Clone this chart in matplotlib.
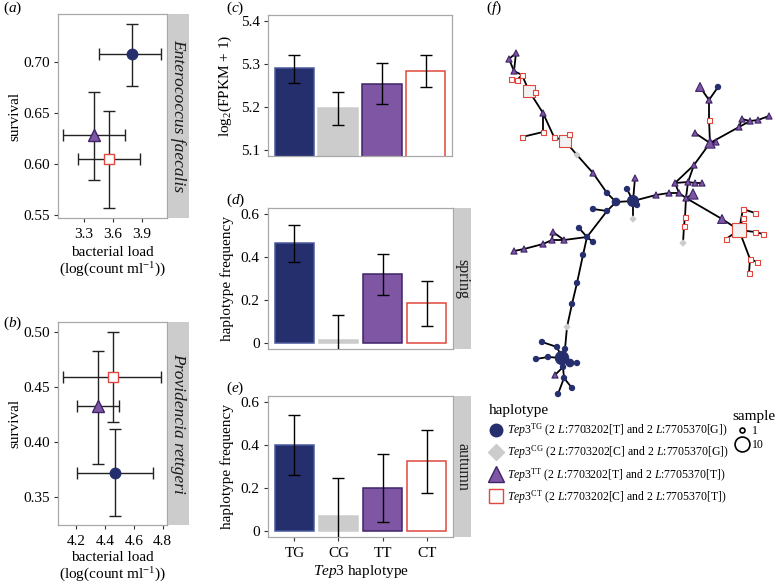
import numpy as np
import matplotlib.pyplot as plt
from matplotlib.lines import Line2D
from matplotlib.collections import LineCollection

W, H = 776, 585

# ---- data -------------------------------------------------------------
haplotypes = ["TG", "CG", "TT", "CT"]

# (a) Enterococcus faecalis: TG, TT, CT
a_load = [3.80, 3.40, 3.56]
a_load_lo = [3.455, 3.08, 3.24]
a_load_hi = [4.10, 3.72, 3.88]
a_surv = [0.708, 0.628, 0.605]
a_surv_lo = [0.676, 0.584, 0.557]
a_surv_hi = [0.737, 0.671, 0.652]

# (b) Providencia rettgeri: TG, TT, CT
b_load = [4.47, 4.35, 4.455]
b_load_lo = [4.21, 4.21, 4.11]
b_load_hi = [4.73, 4.50, 4.79]
b_surv = [0.372, 0.433, 0.459]
b_surv_lo = [0.333, 0.380, 0.418]
b_surv_hi = [0.412, 0.483, 0.500]

# (c) expression
c_expr = [5.291, 5.198, 5.253, 5.284]
c_expr_lo = [5.256, 5.158, 5.207, 5.247]
c_expr_hi = [5.321, 5.235, 5.302, 5.321]

# (d) spring frequency
d_freq = [0.466, 0.014, 0.323, 0.187]
d_freq_lo = [0.378, -0.10, 0.225, 0.080]
d_freq_hi = [0.549, 0.130, 0.417, 0.290]

# (e) autumn frequency
e_freq = [0.400, 0.067, 0.200, 0.325]
e_freq_lo = [0.260, -0.11, 0.040, 0.178]
e_freq_hi = [0.540, 0.245, 0.360, 0.470]

# (f) haplotype network layout (x, y in layout units), kind, sample count
net_x = [633, 637, 627, 635, 633, 616, 607, 593, 577, 565, 569, 554, 543, 543, 522, 529, 535, 522, 517, 511, 514, 509, 516,
         656, 669, 679, 686, 693, 675, 688, 695, 702, 694, 710, 716, 695, 709, 709, 700, 718, 739, 742, 750, 758, 769,
         685, 684, 683, 722, 739, 743, 755, 743, 755, 763, 726, 750, 757, 749,
         607, 593, 587, 579, 593, 564, 553, 552, 543, 524, 514, 583, 577, 572, 567, 565, 562, 570, 577, 557, 542,
         548, 536, 563, 555, 564, 572, 558]
net_y = [201, 205, 189, 178, 219, 202, 193, 173, 155, 141, 134, 137, 113, 132, 137, 91, 92, 75, 80, 79, 71, 59, 53,
         195, 193, 193, 198, 194, 183, 182, 183, 183, 165, 143, 142, 133, 120, 100, 87, 87, 127, 119, 121, 120, 116,
         217, 226, 243, 219, 230, 209, 213, 218, 232, 234, 239, 259, 262, 273,
         211, 209, 237, 228, 242, 240, 232, 240, 244, 249, 251, 255, 283, 304, 327, 349, 358, 363, 363, 347, 342,
         357, 359, 367, 375, 378, 388, 394]
net_kind = ["TG", "TG", "TG", "TT", "CG", "TG", "TG", "TT", "CG", "CT", "CT", "CT", "TT", "CT", "CT", "CT", "CT", "CT",
            "CT", "CT", "TT", "TT", "TT",
            "TT", "TT", "TT", "TT", "TT", "TT", "TT", "TT", "TT", "TT", "TT", "TT", "TT", "CT", "TT", "TT", "TG", "TT",
            "TT", "TT", "TT", "TT",
            "CT", "CT", "CG", "TT", "CT", "CT", "CT", "CT", "CT", "CT", "CT", "CT", "CT", "CT",
            "TG", "TG", "TG", "TG", "TG", "TT", "TT", "TT", "TT", "TT", "TT", "TG", "TG", "TG", "CG", "TG", "TG", "TG",
            "TG", "TG", "TG", "TG", "TG", "TG", "TT", "TG", "TG", "TG"]
net_n = [6, 1, 1, 1, 1, 3, 1, 1, 1, 7, 1, 1, 1, 1, 1, 7, 1, 1, 1, 1, 1, 1, 1,
         1, 1, 1, 1, 4, 1, 1, 1, 1, 1, 4, 1, 1, 1, 1, 3, 1, 1, 1, 1, 1, 1,
         1, 1, 1, 3, 10, 1, 1, 1, 1, 1, 1, 1, 1, 1,
         1, 1, 1, 1, 1, 1, 1, 1, 1, 1, 1, 1, 1, 1, 1, 1, 8, 3, 1, 1, 1,
         1, 1, 1, 1, 1, 1, 1]
edge_from = [0, 0, 0, 0, 0, 5, 6, 7, 8, 9, 9, 11, 12, 13, 12, 15, 15, 17, 18, 17, 20, 21, 20,
             0, 23, 24, 25, 26, 25, 28, 29, 29, 30, 28, 32, 32, 33, 33, 33, 36, 37, 37, 33, 40, 41, 40, 42, 43,
             26, 45, 46, 26, 48, 49, 50, 49, 49, 53, 49, 49, 56, 56,
             5, 59, 59, 61, 61, 61, 64, 64, 65, 66, 67, 68, 61, 70, 71, 72, 73, 74, 75, 76, 75, 78, 75, 80, 75,
             82, 82, 84, 84]
edge_to = [1, 2, 3, 4, 5, 6, 7, 8, 9, 10, 11, 12, 13, 14, 15, 16, 17, 18, 19, 20, 21, 22, 22,
           23, 24, 25, 26, 27, 28, 29, 26, 30, 31, 32, 29, 33, 34, 35, 36, 37, 38, 39, 40, 41, 42, 42, 43, 44,
           45, 46, 47, 48, 49, 50, 51, 52, 53, 54, 55, 56, 57, 58,
           59, 60, 61, 62, 63, 64, 65, 66, 66, 67, 68, 69, 70, 71, 72, 73, 74, 75, 76, 77, 78, 79, 80, 81, 82,
           83, 84, 85, 86]

legend_labels = [
    r"$\mathit{Tep3}^{\mathrm{TG}}$ (2 $\mathit{L}$:7703202[T] and 2 $\mathit{L}$:7705370[G])",
    r"$\mathit{Tep3}^{\mathrm{CG}}$ (2 $\mathit{L}$:7703202[C] and 2 $\mathit{L}$:7705370[G])",
    r"$\mathit{Tep3}^{\mathrm{TT}}$ (2 $\mathit{L}$:7703202[T] and 2 $\mathit{L}$:7705370[T])",
    r"$\mathit{Tep3}^{\mathrm{CT}}$ (2 $\mathit{L}$:7703202[C] and 2 $\mathit{L}$:7705370[T])",
]

# ---- style ------------------------------------------------------------
FACE = {"TG": "#262f6e", "CG": "#cccccc", "TT": "#7f56a3", "CT": "white"}
EDGE = {"TG": "#262f6e", "CG": "#cccccc", "TT": "#3f2468", "CT": "#e0483d"}
BAR_EDGE = {"TG": "#4a5a9c", "CG": "#cccccc", "TT": "#3f2468", "CT": "#e0483d"}
MARK = {"TG": "o", "CG": "D", "TT": "^", "CT": "s"}
BORDER = "#a8a8a8"
STRIP = "#cccccc"

plt.rcParams.update({
    "font.family": ["Liberation Serif", "DejaVu Serif"],
    "font.size": 11,
    "mathtext.fontset": "custom",
    "mathtext.rm": "Liberation Serif",
    "mathtext.it": "Liberation Serif:italic",
    "mathtext.bf": "Liberation Serif:bold",
    "xtick.labelsize": 11,
    "ytick.labelsize": 11,
    "axes.labelsize": 11,
})

fig = plt.figure(figsize=(W / 100, H / 100), dpi=100)


def box(l, t, r, b):
    return fig.add_axes([l / W, 1 - b / H, (r - l) / W, (b - t) / H])


def style(ax):
    for s in ax.spines.values():
        s.set_color(BORDER)
        s.set_linewidth(0.9)
    ax.tick_params(length=3, width=0.8, color="#333333")
    ax.tick_params(axis="x", pad=4.5)
    ax.tick_params(axis="y", pad=3)


def strip(l, t, r, b, text, italic=False, size=11.5):
    s = box(l, t, r, b)
    s.set_facecolor(STRIP)
    for sp in s.spines.values():
        sp.set_visible(False)
    s.set_xticks([])
    s.set_yticks([])
    s.text(0.5, 0.5, text, rotation=-90, ha="center", va="center", fontsize=size,
           style="italic" if italic else "normal", color="#1a1a1a", transform=s.transAxes)


def scatter_panel(ax, load, lo_l, hi_l, surv, lo_s, hi_s):
    kinds = ["TG", "TT", "CT"]
    for i, k in enumerate(kinds):
        ax.errorbar(load[i], surv[i],
                    xerr=[[load[i] - lo_l[i]], [hi_l[i] - load[i]]],
                    yerr=[[surv[i] - lo_s[i]], [hi_s[i] - surv[i]]],
                    fmt="none", ecolor="#222222", elinewidth=1.0, capsize=4.5, capthick=1.0, zorder=2)
    for i, k in enumerate(kinds):
        ms = {"TG": 7.5, "TT": 9, "CT": 7.5}[k]
        ax.plot(load[i], surv[i], marker=MARK[k], ms=ms, mfc=FACE[k], mec=EDGE[k],
                mew=1.0, ls="none", zorder=3)


XLAB = "bacterial load\n(log(count ml$^{-1}$))"

# (a)
ax_a = box(58, 14, 167, 218)
scatter_panel(ax_a, a_load, a_load_lo, a_load_hi, a_surv, a_surv_lo, a_surv_hi)
ax_a.set_xlim(3.03, 4.16)
ax_a.set_ylim(0.547, 0.747)
ax_a.set_xticks([3.3, 3.6, 3.9])
ax_a.set_yticks([0.55, 0.60, 0.65, 0.70])
ax_a.set_yticklabels(["0.55", "0.60", "0.65", "0.70"])
ax_a.set_ylabel("survival", labelpad=1)
ax_a.set_xlabel(XLAB, labelpad=3, linespacing=1.15)
style(ax_a)
strip(168, 14, 189, 218, "Enterococcus faecalis", italic=True, size=12.5)

# (b)
ax_b = box(58, 322, 167, 525)
scatter_panel(ax_b, b_load, b_load_lo, b_load_hi, b_surv, b_surv_lo, b_surv_hi)
ax_b.set_xlim(4.076, 4.83)
ax_b.set_ylim(0.325, 0.509)
ax_b.set_xticks([4.2, 4.4, 4.6, 4.8])
ax_b.set_yticks([0.35, 0.40, 0.45, 0.50])
ax_b.set_yticklabels(["0.35", "0.40", "0.45", "0.50"])
ax_b.set_ylabel("survival", labelpad=1)
ax_b.set_xlabel(XLAB, labelpad=2, linespacing=1.1)
style(ax_b)
strip(168, 322, 189, 525, "Providencia rettgeri", italic=True, size=12.5)


def bar_panel(ax, vals, lo, hi):
    x = np.arange(len(haplotypes))
    for i, h in enumerate(haplotypes):
        ax.bar(x[i], vals[i], width=0.9, color=FACE[h], edgecolor=BAR_EDGE[h], linewidth=1.1, zorder=2)
    v = np.array(vals)
    ax.errorbar(x, v, yerr=[v - np.array(lo), np.array(hi) - v], fmt="none", ecolor="black",
                elinewidth=1.0, capsize=4.5, capthick=1.0, zorder=3)
    ax.set_xlim(-0.6, 3.6)
    ax.set_xticks(x)
    style(ax)


# (c)
ax_c = box(268, 15, 452, 156)
bar_panel(ax_c, c_expr, c_expr_lo, c_expr_hi)
ax_c.set_ylim(5.085, 5.415)
ax_c.set_yticks([5.1, 5.2, 5.3, 5.4])
ax_c.set_xticklabels([])
ax_c.tick_params(axis="x", length=0)
ax_c.set_ylabel("log$_2$(FPKM + 1)", labelpad=5)

# (d)
ax_d = box(268, 208, 453, 349)
bar_panel(ax_d, d_freq, d_freq_lo, d_freq_hi)
ax_d.set_ylim(-0.03, 0.63)
ax_d.set_yticks([0, 0.2, 0.4, 0.6])
ax_d.set_yticklabels(["0", "0.2", "0.4", "0.6"])
ax_d.set_xticklabels([])
ax_d.tick_params(axis="x", length=0)
ax_d.set_ylabel("haplotype frequency", labelpad=5)
strip(454, 208, 471, 349, "spring")

# (e)
ax_e = box(268, 396, 453, 537)
bar_panel(ax_e, e_freq, e_freq_lo, e_freq_hi)
ax_e.set_ylim(-0.03, 0.63)
ax_e.set_yticks([0, 0.2, 0.4, 0.6])
ax_e.set_yticklabels(["0", "0.2", "0.4", "0.6"])
ax_e.set_xticklabels(haplotypes)
ax_e.set_ylabel("haplotype frequency", labelpad=5)
ax_e.set_xlabel(r"$\mathit{Tep3}$ haplotype", labelpad=2)
strip(454, 396, 471, 537, "autumn")

# (f) network
ax_f = box(480, 20, 776, 410)
ax_f.set_xlim(480, 776)
ax_f.set_ylim(410, 20)
ax_f.axis("off")
segs = [[(net_x[a], net_y[a]), (net_x[b], net_y[b])] for a, b in zip(edge_from, edge_to)]
ax_f.add_collection(LineCollection(segs, colors="black", linewidths=1.3, zorder=1))


def node_area(n):
    d_px = 5.0 + (np.asarray(n) - 1) * 1.1
    return (d_px * 0.72) ** 2


nx_, ny_, nn_ = np.array(net_x), np.array(net_y), np.array(net_n)
kinds = np.array(net_kind)
for k in haplotypes:
    m = kinds == k
    face = FACE[k]
    if k == "CT":
        face = np.where(nn_[m] > 3, "#f2f2f2", "white")
    scale = {"TG": 1.1, "CG": 0.7, "TT": 1.5, "CT": 1.0}[k]
    ax_f.scatter(nx_[m], ny_[m], s=node_area(nn_[m]) * scale, marker=MARK[k], c=face,
                 edgecolors=EDGE[k], linewidths=0.8, zorder=3)

# legends
handles = [Line2D([], [], ls="none", marker=MARK[h], ms={"TG": 9, "CG": 8, "TT": 11.5, "CT": 9.5}[h],
                  mfc=FACE[h], mec=EDGE[h], mew=1.0) for h in haplotypes]
fig.legend(handles, legend_labels, title="haplotype", loc="upper left",
           bbox_to_anchor=(481 / W, 1 - 396 / H), frameon=False, fontsize=8.5,
           title_fontsize=11, alignment="left", handletextpad=0.3, labelspacing=0.38,
           borderpad=0.2, handlelength=1.2)

sizes_leg = [1, 10]
s_handles = [Line2D([], [], ls="none", marker="o", mfc="white", mec="black", mew=1.2,
                    ms=np.sqrt(node_area(n))) for n in sizes_leg]
fig.legend(s_handles, [str(n) for n in sizes_leg], title="sample", loc="upper left",
           bbox_to_anchor=(724 / W, 1 - 402 / H), frameon=False, fontsize=8.5, title_fontsize=11,
           alignment="left", handletextpad=0.1, labelspacing=0.15, borderpad=0.2, handlelength=1.6)

# panel labels
for lab, (px, py) in zip("abcdef", [(3, 8), (3, 323), (226, 8), (226, 200), (226, 388), (486, 8)]):
    fig.text(px / W, 1 - py / H, "(" + r"$\mathit{" + lab + "}$" + ")", fontsize=11,
             ha="left", va="center")

fig.savefig("out.png", dpi=100)
